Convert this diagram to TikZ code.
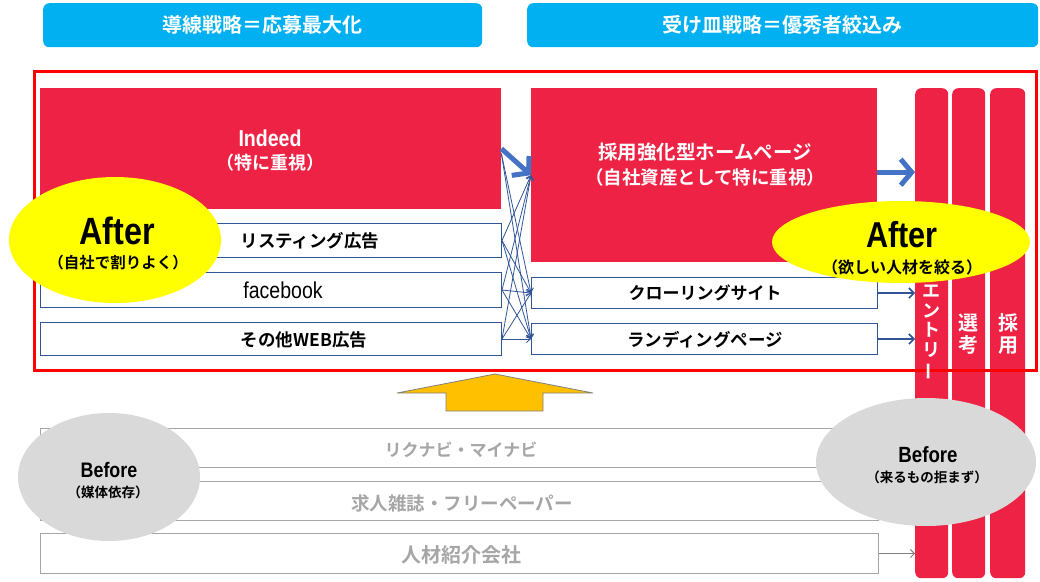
\documentclass[tikz,border=0pt]{standalone}
\usepackage{fontspec}
\newfontfamily\jp{Noto Sans CJK JP}[BoldFont={* Bold}]
\newfontfamily\lat{Liberation Sans}[FakeStretch=0.85]
\usetikzlibrary{arrows.meta,shapes.geometric}
\definecolor{hdr}{RGB}{0,176,240}
\definecolor{rd}{RGB}{238,34,68}
\definecolor{frm}{RGB}{255,0,0}
\definecolor{navy}{RGB}{47,85,151}
\definecolor{blu}{RGB}{68,114,196}
\definecolor{yel}{RGB}{255,255,0}
\definecolor{gry}{RGB}{217,217,217}
\definecolor{gtxt}{RGB}{166,166,166}
\definecolor{org}{RGB}{255,192,0}
\newcommand{\myfs}[1]{\fontsize{#1}{#1}\selectfont}
\begin{document}
\begin{tikzpicture}[x=1pt,y=-1pt,
  hdrbox/.style={fill=hdr, rounded corners=6pt, inner sep=0pt, anchor=north west, text=white, font=\jp\bfseries\myfs{20}},
  redbox/.style={fill=rd, inner sep=0pt, anchor=north west},
  listbox/.style={draw=navy, line width=1pt, fill=white, inner sep=0pt, anchor=north west},
  graybox/.style={draw=gtxt, line width=1pt, fill=white, inner sep=0pt, anchor=north west},
  colbox/.style={fill=rd, rounded corners=6pt, inner sep=0pt, anchor=north west, minimum height=490pt},
  yelell/.style={ellipse, fill=yel, inner sep=0pt},
  grayell/.style={ellipse, fill=gry, inner sep=0pt},
  jtxt/.style={inner sep=0pt, font=\jp\bfseries\myfs{#1}},
  ltxt/.style={inner sep=0pt, font=\lat\bfseries\myfs{#1}},
  thinarrow/.style={draw=navy, line width=0.8pt, -{Straight Barb[length=4pt,width=7pt]}},
  colarrow/.style={draw=navy, line width=1.6pt, -{Straight Barb[length=5pt,width=10pt]}},
  thickarrow/.style={draw=blu, line width=5pt, -{Straight Barb[length=11pt,width=26pt]}},
  grayarrow/.style={draw=gray, line width=0.9pt, -{Straight Barb[length=4pt,width=8pt]}},
  coltxta/.style={inner sep=0pt, text=white, align=center, font=\jp\bfseries\fontsize{18}{19.5}\selectfont},
  coltxtb/.style={inner sep=0pt, text=white, align=center, font=\jp\bfseries\fontsize{20}{22}\selectfont}
]
\useasboundingbox (0,0) rectangle (1040,581);

% headers
\node[hdrbox, minimum width=439pt, minimum height=44pt] (h1) at (43,3) {導線戦略＝応募最大化};
\node[hdrbox, minimum width=511pt, minimum height=44pt] (h2) at (527,3) {受け皿戦略＝優秀者絞込み};

% columns
\node[colbox, minimum width=33pt] (c1) at (915,88) {};
\node[colbox, minimum width=33pt] (c2) at (952,88) {};
\node[colbox, minimum width=35pt] (c3) at (990,88) {};

% red frame
\node[draw=frm, line width=3.2pt, inner sep=0pt, anchor=north west, minimum width=1002pt, minimum height=299pt] (frame) at (33,70) {};

% left boxes
\node[redbox, minimum width=461pt, minimum height=121pt] (indeed) at (40,88) {};
\node[listbox, minimum width=461pt, minimum height=34pt] (list) at (40,223) {};
\node[listbox, minimum width=461pt, minimum height=35pt] (fb) at (40,272) {};
\node[listbox, minimum width=461pt, minimum height=33pt] (other) at (40,322) {};

% right boxes
\node[redbox, minimum width=346pt, minimum height=174pt] (hp) at (531,88) {};
\node[listbox, minimum width=346pt, minimum height=31pt] (crawl) at (531,277) {};
\node[listbox, minimum width=346pt, minimum height=31pt] (land) at (531,323) {};

% bottom boxes
\node[graybox, minimum width=838pt, minimum height=39pt] (rik) at (40,428) {};
\node[graybox, minimum width=838pt, minimum height=39pt] (kyu) at (40,481) {};
\node[graybox, minimum width=838pt, minimum height=40pt] (jin) at (40,533) {};

% crossing arrows
\coordinate (s0) at ([yshift=-5pt]indeed.east);
\foreach \s in {s0,list.east,fb.east,other.east}{
  \draw[thinarrow] (\s) -- (crawl.west);
  \draw[thinarrow] (\s) -- (land.west);
}
\foreach \s in {list.east,fb.east,other.east}{
  \draw[thinarrow] (\s) -- (hp.west);
}
\draw[thickarrow] (indeed.east) -- (hp.west);

% arrows into columns
\draw[thickarrow] ([yshift=3pt]hp.east) -- ([yshift=3pt]hp.east -| c1.west);
\draw[colarrow] (crawl.east) -- (crawl.east -| c1.west);
\draw[colarrow] (land.east) -- (land.east -| c1.west);
\draw[grayarrow] (jin.east) -- (jin.east -| c1.west);

% orange arrow
\draw[fill=org, draw=gray, line width=0.8pt] (397,393) -- (495,374) -- (593,393) -- (543,393) -- (543,411) -- (446,411) -- (446,393) -- cycle;

% ellipses
\node[yelell, minimum width=212pt, minimum height=126pt] (e1) at (115,240) {};
\node[yelell, minimum width=258pt, minimum height=82pt] (e2) at (901,242) {};
\node[grayell, minimum width=182pt, minimum height=128pt] (g1) at (109,477) {};
\node[grayell, minimum width=220pt, minimum height=128pt] (g2) at (926,462) {};

% texts
\node[ltxt=23, text=white] (tind) at (270,138) {Indeed};
\node[jtxt=18, text=white] (tind2) at (270,163) {（特に重視）};
\node[jtxt=17.5] (tlist) at (310,241) {リスティング広告};
\node[inner sep=0pt, font=\lat\myfs{23}] (tfb) at (283,290) {facebook};
\node[jtxt=17.5] (toth) at (304,340) {その他WEB広告};
\node[jtxt=19.5, text=white] (thp1) at (705,152) {採用強化型ホームページ};
\node[jtxt=18.5, text=white] (thp2) at (705,177) {（自社資産として特に重視）};
\node[jtxt=17] (tcrawl) at (705,293) {クローリングサイト};
\node[jtxt=17.5] (tland) at (705,340) {ランディングページ};

\node[ltxt=38] (ta1) at (117,231) {After};
\node[jtxt=15.5] (ta1b) at (118,263) {（自社で割りよく）};
\node[ltxt=36] (ta2) at (902,235) {After};
\node[jtxt=16] (ta2b) at (902,267) {（欲しい人材を絞る）};

\node[ltxt=21] (tb1) at (109,470) {Before};
\node[jtxt=13.5] (tb1b) at (108,492) {（媒体依存）};
\node[ltxt=22] (tb2) at (928,455) {Before};
\node[jtxt=13.5] (tb2b) at (927,477) {（来るもの拒まず）};

\node[jtxt=17, text=gtxt] (trik) at (461,450) {リクナビ・マイナビ};
\node[jtxt=18.5, text=gtxt] (tkyu) at (462,503) {求人雑誌・フリーペーパー};
\node[jtxt=20, text=gtxt] (tjin) at (461,555) {人材紹介会社};

% column labels
\node[coltxta] (tc1) at (931,333) {エ\\ン\\ト\\リ\\\rotatebox[origin=c]{90}{ー}};
\node[coltxtb] (tc2) at (968,334) {選\\考};
\node[coltxtb] (tc3) at (1008,334) {採\\用};
\end{tikzpicture}
\end{document}
